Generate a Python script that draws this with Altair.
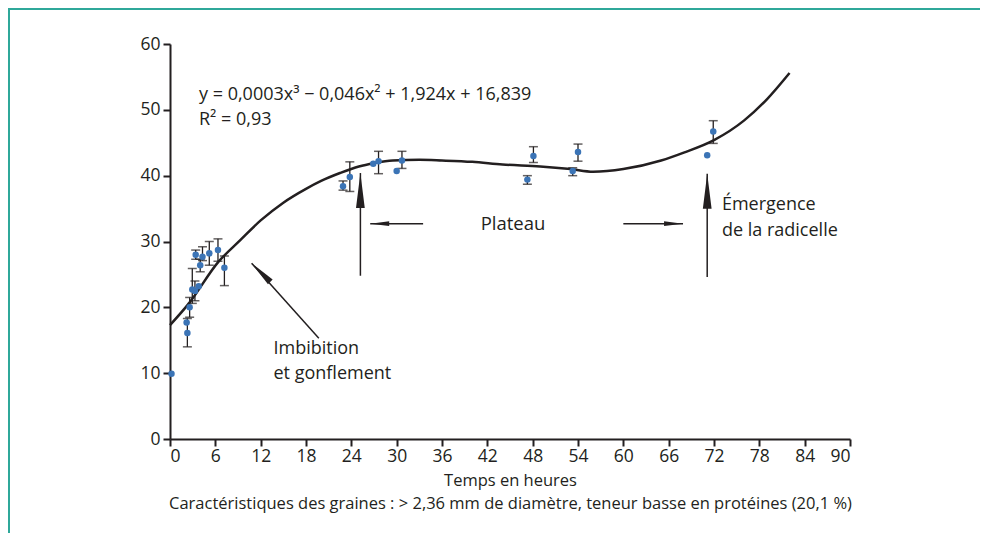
import altair as alt
import pandas as pd

# ---- data ----
pt_h = [0.2, 2.2, 2.3, 2.6, 2.95, 3.3, 3.8, 3.4, 4.0, 4.3, 5.2, 6.35, 7.2,
        22.9, 23.8, 26.9, 27.6, 30.0, 30.7, 47.3, 48.1, 53.3, 54.0, 71.1, 71.9]
pt_v = [9.9, 17.7, 16.1, 20.0, 22.7, 22.5, 23.2, 28.0, 26.4, 27.7, 28.2, 28.7, 26.0,
        38.4, 39.8, 41.8, 42.2, 40.7, 42.3, 39.4, 43.0, 40.7, 43.6, 43.1, 46.7]

err_h = [2.3, 2.6, 2.95, 3.3, 3.4, 4.0, 4.3, 5.2, 6.35, 7.2,
         22.9, 23.8, 27.6, 30.7, 47.3, 48.1, 53.3, 54.0, 71.9]
err_lo = [14.0, 18.5, 20.6, 21.0, 27.3, 25.4, 27.1, 26.4, 27.0, 23.3,
          37.8, 37.6, 40.3, 41.1, 38.7, 42.0, 40.0, 42.2, 44.9]
err_hi = [18.3, 21.5, 25.9, 24.0, 28.7, 27.3, 29.2, 30.0, 30.4, 27.8,
          39.2, 42.1, 43.7, 43.7, 40.0, 44.4, 41.2, 44.8, 48.35]

curve_h = [0, 2.5, 6.4, 9.3, 12, 15, 18, 20, 22.5, 25, 27, 29.5, 33, 36, 40,
           44, 49, 53, 56, 60, 65, 68, 72, 76, 79, 82]
curve_v = [17.3, 20.6, 26.9, 30.2, 33.2, 35.9, 38.0, 39.2, 40.4, 41.4, 41.9, 42.3,
           42.4, 42.3, 42.1, 41.7, 41.4, 41.0, 40.6, 41.0, 42.3, 43.5, 45.4, 48.4, 51.6, 55.6]

# annotation arrows: shaft from (h1, v1) to tip (h2, v2); head angle (deg, clockwise from up)
arr_h1 = [33.5, 60.0, 25.2, 71.1, 19.7]
arr_v1 = [32.7, 32.7, 24.8, 24.6, 15.3]
arr_h2 = [26.5, 67.9, 25.2, 71.1, 10.8]
arr_v2 = [32.7, 32.7, 40.4, 40.3, 26.7]
arr_ang = [270, 90, 0, 0, 315]
arr_size = [360, 360, 1225, 1225, 700]

lab_text = ["y = 0,0003x³ − 0,046x² + 1,924x + 16,839", "R² = 0,93", "Plateau",
            "Imbibition", "et gonflement", "Émergence", "de la radicelle"]
lab_h = [3.84, 3.84, 45.4, 13.7, 13.7, 73.05, 73.05]
lab_v = [52.2, 48.4, 32.7, 13.6, 9.8, 35.5, 31.6]
lab_size = [18, 18, 18.5, 18, 18, 18, 18]
lab_align = ["left", "left", "center", "left", "left", "left", "left"]

x_ticks = list(range(0, 91, 6))
y_ticks = list(range(0, 61, 10))

x_title = ["Temps en heures",
           "Caractéristiques des graines : > 2,36 mm de diamètre, teneur basse en protéines (20,1 %)"]

INK = "#231f20"
BLUE = "#3b74b6"
TEAL = "#2fa89a"
FONT = "Open Sans"

pts = pd.DataFrame({"h": pt_h, "v": pt_v})
errs = pd.DataFrame({"h": err_h, "lo": err_lo, "hi": err_hi})
curve = pd.DataFrame({"h": curve_h, "v": curve_v})
arrows = pd.DataFrame({"h1": arr_h1, "v1": arr_v1, "h2": arr_h2, "v2": arr_v2,
                       "ang": arr_ang, "sz": arr_size})
labels = pd.DataFrame({"t": lab_text, "h": lab_h, "v": lab_v, "al": lab_align,
                       "fs": lab_size})

xs = alt.Scale(domain=[0, 90], nice=False, zero=False)
ys = alt.Scale(domain=[0, 60], nice=False)

xax = alt.Axis(values=x_ticks, title=x_title, grid=False, domainColor=INK, domainWidth=2,
               tickColor=INK, tickWidth=2, tickSize=7, labelFontSize=17.5, labelColor=INK,
               labelFont=FONT, labelPadding=1, titleFont=FONT, titleFontSize=16.5,
               titleFontWeight="normal", titleColor=INK, titleLineHeight=23,
               titlePadding=8)
yax = alt.Axis(values=y_ticks, title=None, grid=False, domainColor=INK, domainWidth=2,
               tickColor=INK, tickWidth=2, tickSize=7, labelFontSize=17.5, labelColor=INK,
               labelFont=FONT, labelPadding=3)

base_x = alt.X("h:Q", scale=xs, axis=xax)
base_y = alt.Y("v:Q", scale=ys, axis=yax)

line = alt.Chart(curve).mark_line(color=INK, strokeWidth=2.5, interpolate="monotone",
                                  clip=False).encode(x=base_x, y=base_y)

err_rule = alt.Chart(errs).mark_rule(color=INK, strokeWidth=1.3).encode(
    x=alt.X("h:Q", scale=xs), y=alt.Y("lo:Q", scale=ys), y2="hi:Q")
cap_lo = alt.Chart(errs).mark_tick(color=INK, orient="horizontal", size=9, thickness=1.5).encode(
    x=alt.X("h:Q", scale=xs), y=alt.Y("lo:Q", scale=ys))
cap_hi = alt.Chart(errs).mark_tick(color=INK, orient="horizontal", size=9, thickness=1.5).encode(
    x=alt.X("h:Q", scale=xs), y=alt.Y("hi:Q", scale=ys))

dots = alt.Chart(pts).mark_circle(color=BLUE, opacity=1, size=42).encode(
    x=alt.X("h:Q", scale=xs), y=alt.Y("v:Q", scale=ys))

shafts = alt.Chart(arrows).mark_rule(color=INK, strokeWidth=1.5).encode(
    x=alt.X("h1:Q", scale=xs), y=alt.Y("v1:Q", scale=ys), x2="h2:Q", y2="v2:Q")
heads = alt.Chart(arrows).mark_point(
    shape="M0,0L-0.25,2L0.25,2Z", filled=True, color=INK, opacity=1, strokeWidth=0).encode(
    x=alt.X("h2:Q", scale=xs), y=alt.Y("v2:Q", scale=ys),
    angle=alt.Angle("ang:Q", scale=None), size=alt.Size("sz:Q", scale=None))

texts = []
for al in ["left", "center"]:
    texts.append(alt.Chart(labels).transform_filter(alt.datum.al == al).mark_text(
        align=al, baseline="middle", font=FONT, color=INK).encode(
        x=alt.X("h:Q", scale=xs), y=alt.Y("v:Q", scale=ys), text="t:N",
        size=alt.Size("fs:Q", scale=None)))

frame_top = alt.Chart(pts).mark_rule(color=TEAL, strokeWidth=2, clip=False).encode(
    x=alt.value(-162), x2=alt.value(810), y=alt.value(-35))
frame_left = alt.Chart(pts).mark_rule(color=TEAL, strokeWidth=2, clip=False).encode(
    x=alt.value(-161), y=alt.value(-36), y2=alt.value(494))

chart = alt.layer(line, err_rule, cap_lo, cap_hi, dots, shafts, heads, *texts,
                  frame_top, frame_left).properties(
    width=680, height=395,
    autosize=alt.AutoSizeParams(type="none"),
    padding={"left": 162, "top": 36, "right": 130, "bottom": 94},
    background="white",
).configure_view(stroke=None)

chart.save("out.html", embed_options={"renderer": "svg", "actions": False})
